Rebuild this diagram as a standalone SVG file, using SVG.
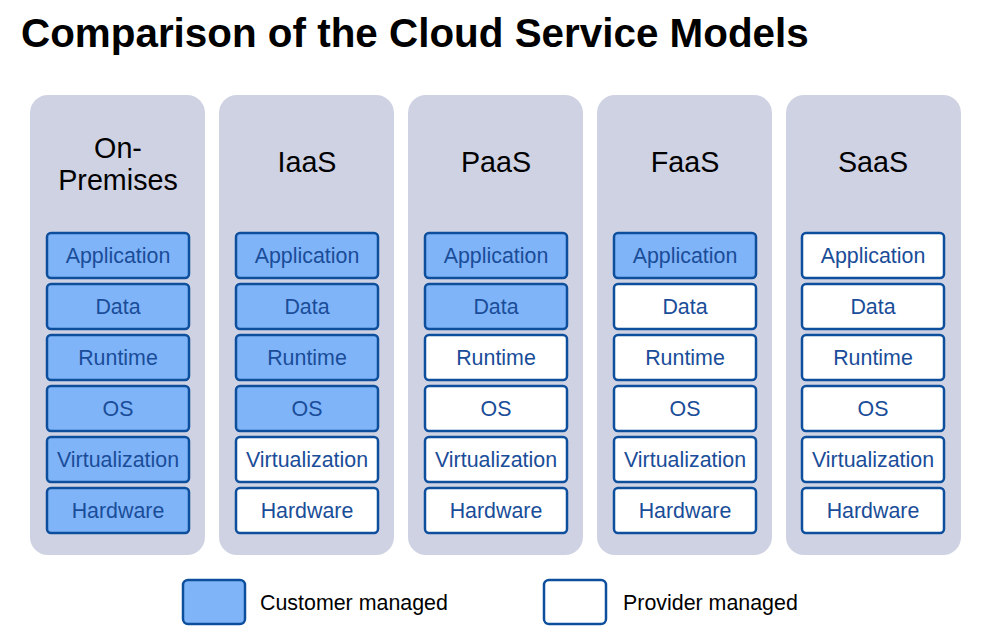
<svg xmlns="http://www.w3.org/2000/svg" width="983" height="635" viewBox="0 0 983 635">
<style>
.col{fill:#cfd2e3}
.c{fill:#80b4f8;stroke:#0d4f9c;stroke-width:2.5}
.p{fill:#ffffff;stroke:#0d4f9c;stroke-width:2.5}
.bt{font-family:"Liberation Sans",Arial,sans-serif;font-size:21.4px;fill:#1a4d99;text-anchor:middle}
.h{font-family:"Liberation Sans",Arial,sans-serif;font-size:28.7px;fill:#000;text-anchor:middle}
.title{font-family:"Liberation Sans",Arial,sans-serif;font-size:40.4px;font-weight:bold;fill:#000}
.lg{font-family:"Liberation Sans",Arial,sans-serif;font-size:21.4px;fill:#000}
</style>
<rect width="983" height="635" fill="#fff"/>
<text class="title" x="21" y="47">Comparison of the Cloud Service Models</text>
<g id="col-onprem">
<rect class="col" x="30" y="95" width="175" height="460" rx="18"/>
<text class="h" x="118" y="158">On-</text>
<text class="h" x="118" y="190">Premises</text>
<rect class="c" x="47" y="233" width="142" height="45" rx="4"/><text class="bt" x="118" y="263">Application</text>
<rect class="c" x="47" y="284" width="142" height="45" rx="4"/><text class="bt" x="118" y="314">Data</text>
<rect class="c" x="47" y="335" width="142" height="45" rx="4"/><text class="bt" x="118" y="365">Runtime</text>
<rect class="c" x="47" y="386" width="142" height="45" rx="4"/><text class="bt" x="118" y="416">OS</text>
<rect class="c" x="47" y="437" width="142" height="45" rx="4"/><text class="bt" x="118" y="467">Virtualization</text>
<rect class="c" x="47" y="488" width="142" height="45" rx="4"/><text class="bt" x="118" y="518">Hardware</text>
</g>
<g id="col-iaas">
<rect class="col" x="219" y="95" width="175" height="460" rx="18"/>
<text class="h" x="307" y="172">IaaS</text>
<rect class="c" x="236" y="233" width="142" height="45" rx="4"/><text class="bt" x="307" y="263">Application</text>
<rect class="c" x="236" y="284" width="142" height="45" rx="4"/><text class="bt" x="307" y="314">Data</text>
<rect class="c" x="236" y="335" width="142" height="45" rx="4"/><text class="bt" x="307" y="365">Runtime</text>
<rect class="c" x="236" y="386" width="142" height="45" rx="4"/><text class="bt" x="307" y="416">OS</text>
<rect class="p" x="236" y="437" width="142" height="45" rx="4"/><text class="bt" x="307" y="467">Virtualization</text>
<rect class="p" x="236" y="488" width="142" height="45" rx="4"/><text class="bt" x="307" y="518">Hardware</text>
</g>
<g id="col-paas">
<rect class="col" x="408" y="95" width="175" height="460" rx="18"/>
<text class="h" x="496" y="172">PaaS</text>
<rect class="c" x="425" y="233" width="142" height="45" rx="4"/><text class="bt" x="496" y="263">Application</text>
<rect class="c" x="425" y="284" width="142" height="45" rx="4"/><text class="bt" x="496" y="314">Data</text>
<rect class="p" x="425" y="335" width="142" height="45" rx="4"/><text class="bt" x="496" y="365">Runtime</text>
<rect class="p" x="425" y="386" width="142" height="45" rx="4"/><text class="bt" x="496" y="416">OS</text>
<rect class="p" x="425" y="437" width="142" height="45" rx="4"/><text class="bt" x="496" y="467">Virtualization</text>
<rect class="p" x="425" y="488" width="142" height="45" rx="4"/><text class="bt" x="496" y="518">Hardware</text>
</g>
<g id="col-faas">
<rect class="col" x="597" y="95" width="175" height="460" rx="18"/>
<text class="h" x="685" y="172">FaaS</text>
<rect class="c" x="614" y="233" width="142" height="45" rx="4"/><text class="bt" x="685" y="263">Application</text>
<rect class="p" x="614" y="284" width="142" height="45" rx="4"/><text class="bt" x="685" y="314">Data</text>
<rect class="p" x="614" y="335" width="142" height="45" rx="4"/><text class="bt" x="685" y="365">Runtime</text>
<rect class="p" x="614" y="386" width="142" height="45" rx="4"/><text class="bt" x="685" y="416">OS</text>
<rect class="p" x="614" y="437" width="142" height="45" rx="4"/><text class="bt" x="685" y="467">Virtualization</text>
<rect class="p" x="614" y="488" width="142" height="45" rx="4"/><text class="bt" x="685" y="518">Hardware</text>
</g>
<g id="col-saas">
<rect class="col" x="786" y="95" width="175" height="460" rx="18"/>
<text class="h" x="873" y="172">SaaS</text>
<rect class="p" x="802" y="233" width="142" height="45" rx="4"/><text class="bt" x="873" y="263">Application</text>
<rect class="p" x="802" y="284" width="142" height="45" rx="4"/><text class="bt" x="873" y="314">Data</text>
<rect class="p" x="802" y="335" width="142" height="45" rx="4"/><text class="bt" x="873" y="365">Runtime</text>
<rect class="p" x="802" y="386" width="142" height="45" rx="4"/><text class="bt" x="873" y="416">OS</text>
<rect class="p" x="802" y="437" width="142" height="45" rx="4"/><text class="bt" x="873" y="467">Virtualization</text>
<rect class="p" x="802" y="488" width="142" height="45" rx="4"/><text class="bt" x="873" y="518">Hardware</text>
</g>
<g id="legend-customer">
<rect class="c" x="183" y="580" width="62" height="44" rx="5"/>
<text class="lg" x="260" y="610">Customer managed</text>
</g>
<g id="legend-provider">
<rect class="p" x="544" y="580" width="62" height="44" rx="5"/>
<text class="lg" x="623" y="610">Provider managed</text>
</g>
<g id="connectors"></g>
</svg>
